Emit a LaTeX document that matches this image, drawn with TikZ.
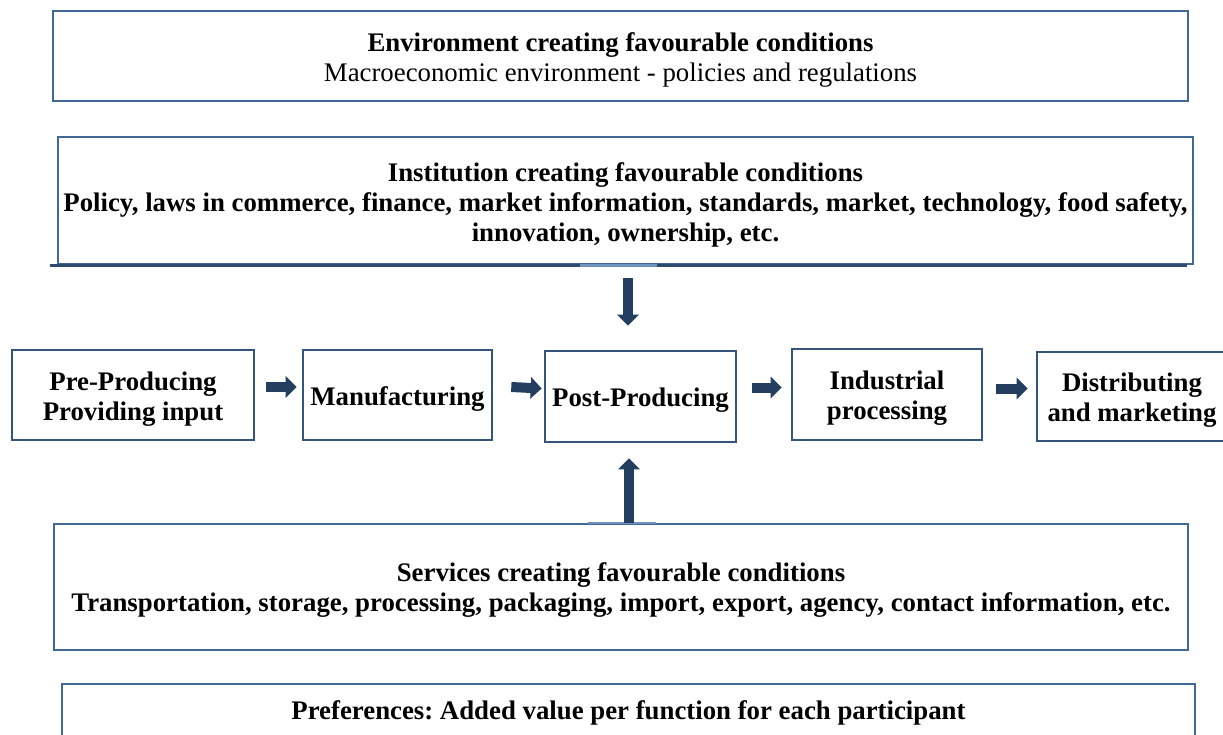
\documentclass[tikz,border=0pt]{standalone}
\usepackage{fontspec}
\setmainfont{Liberation Serif}
\usetikzlibrary{arrows.meta,calc}
\frenchspacing

\definecolor{edge}{RGB}{66,104,152}
\definecolor{edgedark}{RGB}{46,74,110}
\definecolor{edgelight}{RGB}{112,146,190}
\definecolor{stageedge}{RGB}{52,84,124}
\definecolor{navy}{RGB}{36,62,96}

\tikzset{
  panel/.style={draw=edge, line width=2.4pt, inner sep=0pt},
  stagebox/.style={draw=stageedge, line width=2.6pt, inner sep=0pt},
  plain/.style={inner sep=0pt, align=center, font=\fontsize{26.8}{30}\selectfont},
  label/.style={plain, font=\bfseries\fontsize{26.8}{30}\selectfont},
  flow/.style={draw=navy, line width=10pt, -{Triangle[width=21pt,length=11pt]}},
  seam/.style={line width=2.6pt},
}

\begin{document}
\begin{tikzpicture}[x=1pt,y=-1pt]
  \useasboundingbox (0,0) rectangle (1223,734);
  \clip (0,0) rectangle (1223,734);

  % framing conditions
  \node[panel, minimum width=1135pt, minimum height=90pt] (env) at (620.5,56) {};
  \node[plain] (envt) at ($(env)+(0,4)$)
    {\textbf{Environment creating favourable conditions}\\Macroeconomic environment - policies and regulations};
  \node[panel, minimum width=1135pt, minimum height=127pt] (inst) at (625.5,200.5) {};
  \node[label] (instt) at ($(inst)+(0,4)$)
    {Institution creating favourable conditions\\
     Policy, laws in commerce, finance, market information, standards, market, technology, food safety,\\
     innovation, ownership, etc.};
  \draw[seam, edgedark] ($(inst.south west)+(-7,0)$) -- ($(inst.south east)+(-7,0)$);
  \draw[seam, edgelight] ($(inst.south)+(-45.5,0)$) -- ($(inst.south)+(31.5,0)$);

  % value chain stages
  \node[stagebox, minimum width=242pt, minimum height=90pt] (pre) at (133,395) {};
  \node[label] (pret) at ($(pre)+(0,4)$) {Pre-Producing\\Providing input};
  \node[stagebox, minimum width=189pt, minimum height=90pt] (manuf) at (397.5,395) {};
  \node[label] (manuft) at ($(manuf)+(0,4)$) {Manufacturing};
  \node[stagebox, minimum width=191pt, minimum height=91pt] (post) at (640.5,396.5) {};
  \node[label] (postt) at ($(post)+(0,4)$) {Post-Producing};
  \node[stagebox, minimum width=190pt, minimum height=91pt] (ind) at (887,394.5) {};
  \node[label] (indt) at ($(ind)+(0,4)$) {Industrial\\processing};
  \node[stagebox, minimum width=190pt, minimum height=89pt] (dist) at (1132,396.5) {};
  \node[label] (distt) at ($(dist)+(0,4)$) {Distributing\\and marketing};

  % supporting services and preferences
  \node[panel, minimum width=1134pt, minimum height=126pt] (svc) at (621,587) {};
  \node[label] (svct) at ($(svc)+(0,3)$)
    {Services creating favourable conditions\\
     Transportation, storage, processing, packaging, import, export, agency, contact information, etc.};
  \draw[seam, edgelight] ($(svc.north)+(-33,0)$) -- ($(svc.north)+(35,0)$);
  \node[panel, minimum width=1133pt, minimum height=86pt] (pref) at (628.5,727) {};
  \node[label] (preft) at ($(pref.north)+(0,30)$) {Preferences: Added value per function for each participant};

  % flow between stages
  \draw[flow] ($(pre.east)+(11,-8)$) -- ($(manuf.west)+(-5,-8)$);
  \draw[flow] ($(manuf.east)+(18,-8)$) -- ($(post.west)+(-2,-8)$);
  \draw[flow] ($(post.east)+(15,-9)$) -- ($(ind.west)+(-9,-7)$);
  \draw[flow] ($(ind.east)+(13,-6)$) -- ($(dist.west)+(-8,-8)$);

  % influences on post-producing
  \draw[flow] ($(inst.south -| post.north)+(-12.5,13)$) -- ($(post.north)+(-12.5,-24)$);
  \draw[flow] ($(svc.north -| post.south)+(-11.5,0)$) -- ($(post.south)+(-11.5,15)$);
\end{tikzpicture}
\end{document}
